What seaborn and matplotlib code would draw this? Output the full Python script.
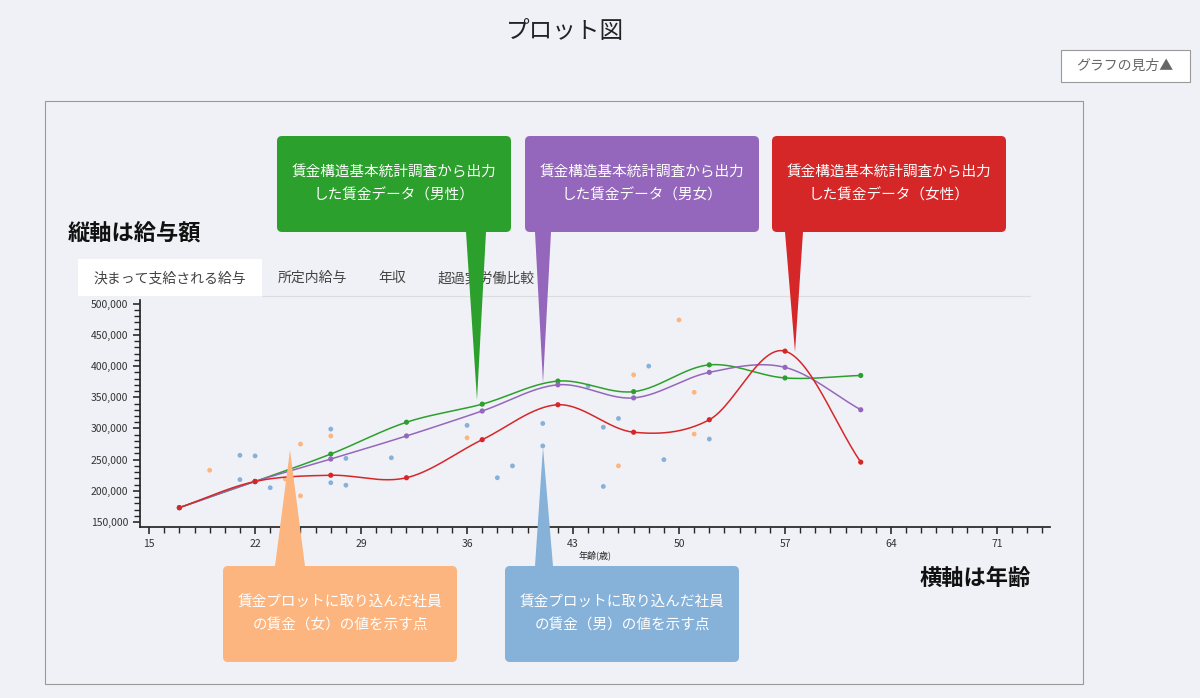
import numpy as np
import pandas as pd
import matplotlib
matplotlib.use("Agg")
import matplotlib.pyplot as plt
import seaborn as sns
from matplotlib.patches import Rectangle, Polygon, FancyBboxPatch
from matplotlib.ticker import MultipleLocator, FuncFormatter

sns.set_theme(style="ticks")
plt.rcParams['font.family'] = ['Noto Sans CJK JP', 'DejaVu Sans']

# wage census curves (age group -> wage)
ages = [17, 22, 27, 32, 37, 42, 47, 52, 57, 62]
male = [173000, 215000, 259000, 310000, 339000, 376000, 359000, 402000, 381000, 385000]
total = [173000, 215000, 251000, 288000, 328000, 370000, 349000, 390000, 398000, 330000]
female = [173000, 215000, 225000, 221000, 282000, 338000, 294000, 314000, 424000, 246000]

# employee points
men_age = [21, 22, 21, 22, 23, 27, 27, 28, 28, 31, 36, 38, 39, 41, 41, 44, 45, 45, 46, 48, 49, 52]
men_wage = [257000, 256000, 218000, 214000, 205000, 299000, 213000, 252000, 209000, 253000, 305000,
            221000, 240000, 308000, 272000, 368000, 302000, 207000, 316000, 400000, 250000, 283000]
women_age = [19, 24, 25, 25, 27, 36, 46, 47, 50, 51, 51]
women_wage = [233000, 219000, 275000, 192000, 288000, 285000, 240000, 386000, 474000, 358000, 291000]

GREEN, PURPLE, RED = "#2ca02c", "#9467bd", "#d62728"
ORANGE, BLUE = "#fdb57f", "#86b1d8"
BG = "#f0f1f6"


def smooth(x, y, n=30):
    # Catmull-Rom curve through the points (drawing only)
    x = np.asarray(x, float); y = np.asarray(y, float)
    px = np.concatenate([[2 * x[0] - x[1]], x, [2 * x[-1] - x[-2]]])
    py = np.concatenate([[2 * y[0] - y[1]], y, [2 * y[-1] - y[-2]]])
    xs, ys = [], []
    t = np.linspace(0, 1, n)
    for i in range(1, len(px) - 2):
        for arr, out in ((px, xs), (py, ys)):
            p0, p1, p2, p3 = arr[i - 1:i + 3]
            out.extend(0.5 * (2 * p1 + (-p0 + p2) * t + (2 * p0 - 5 * p1 + 4 * p2 - p3) * t ** 2
                              + (-p0 + 3 * p1 - 3 * p2 + p3) * t ** 3))
    return xs, ys


fig = plt.figure(figsize=(12, 6.98), dpi=100)
fig.patch.set_facecolor(BG)

ax = fig.add_axes([140 / 1200, 1 - 527 / 698, 910 / 1200, 227 / 698])
ax.set_facecolor(BG)

men_df = pd.DataFrame({"age": men_age, "wage": men_wage})
women_df = pd.DataFrame({"age": women_age, "wage": women_wage})
sns.scatterplot(data=men_df, x="age", y="wage", color=BLUE, s=12, edgecolor="none", ax=ax)
sns.scatterplot(data=women_df, x="age", y="wage", color=ORANGE, s=12, edgecolor="none", ax=ax)

for vals, c in ((male, GREEN), (total, PURPLE), (female, RED)):
    xs, ys = smooth(ages, vals)
    ax.plot(xs, ys, color=c, lw=1.1)
    sns.scatterplot(x=ages, y=vals, color=c, s=14, edgecolor="none", ax=ax, zorder=3)

ax.set_xlim(14.4, 74.5)
ax.set_ylim(142000, 506000)
ax.xaxis.set_major_locator(MultipleLocator(7))
ax.xaxis.set_minor_locator(MultipleLocator(1))
ax.set_xticks([15, 22, 29, 36, 43, 50, 57, 64, 71])
ax.set_yticks(range(150000, 500001, 50000))
ax.yaxis.set_minor_locator(MultipleLocator(10000))
ax.yaxis.set_major_formatter(FuncFormatter(lambda v, p: f"{int(v):,}"))
ax.tick_params(labelsize=7.5, colors="#333333", length=5)
ax.tick_params(which="minor", length=4)
ax.set_xlabel("年齢(歳)", fontsize=6.5, labelpad=1)
ax.set_ylabel("")
for s in ("top", "right"):
    ax.spines[s].set_visible(False)

# overlay in pixel coordinates
ov = fig.add_axes([0, 0, 1, 1])
ov.set_xlim(0, 1200)
ov.set_ylim(698, 0)
ov.axis("off")
ov.patch.set_alpha(0)

ov.add_patch(Rectangle((45, 101), 1038, 583, fill=False, ec="#999999", lw=0.8))
ov.text(565, 32, "プロット図", fontsize=17, ha="center", va="center", color="#222222")
ov.add_patch(Rectangle((1061, 50), 129, 32, fc="white", ec="#999999", lw=0.8))
ov.text(1125, 66, "グラフの見方▲", fontsize=10, ha="center", va="center", color="#666666")

ov.add_patch(Rectangle((78, 259), 184, 37, fc="white", ec="none"))
ov.plot([262, 1030], [296, 296], color="#dddddd", lw=0.8)
for tx, label in ((170, "決まって支給される給与"), (312, "所定内給与"), (392, "年収"), (486, "超過実労働比較")):
    ov.text(tx, 278, label, fontsize=10, ha="center", va="center", color="#444444")

ov.text(68, 233, "縦軸は給与額", fontsize=16, fontweight="bold", ha="left", va="center", color="#111111")
ov.text(920, 578, "横軸は年齢", fontsize=16, fontweight="bold", ha="left", va="center", color="#111111")

callouts = [
    (277, 136, GREEN, "賃金構造基本統計調査から出力\nした賃金データ（男性）", (466, 232), (486, 232), (477, 400)),
    (525, 136, PURPLE, "賃金構造基本統計調査から出力\nした賃金データ（男女）", (535, 232), (551, 232), (543, 383)),
    (772, 136, RED, "賃金構造基本統計調査から出力\nした賃金データ（女性）", (785, 232), (803, 232), (795, 352)),
    (223, 566, ORANGE, "賃金プロットに取り込んだ社員\nの賃金（女）の値を示す点", (275, 566), (305, 566), (290, 450)),
    (505, 566, BLUE, "賃金プロットに取り込んだ社員\nの賃金（男）の値を示す点", (535, 566), (553, 566), (543, 447)),
]
for x0, y0, c, txt, a, b, tip in callouts:
    ov.add_patch(FancyBboxPatch((x0, y0), 234, 96, boxstyle="round,pad=0,rounding_size=5",
                                fc=c, ec="none", zorder=5))
    ov.add_patch(Polygon([a, b, tip], closed=True, fc=c, ec="none", zorder=5))
    ov.text(x0 + 117, y0 + 48, txt, fontsize=10.5, color="white", ha="center", va="center",
            linespacing=1.8, zorder=6)

fig.savefig("out.png", dpi=100, facecolor=BG)
